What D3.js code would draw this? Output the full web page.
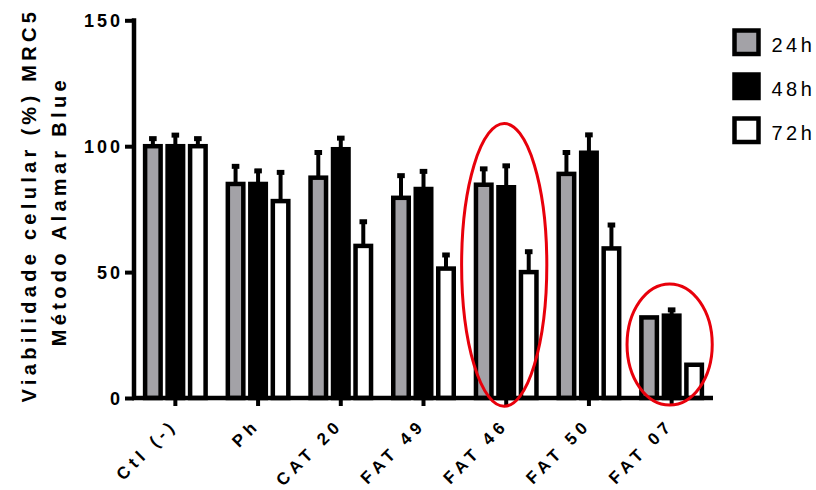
<!DOCTYPE html>
<html><head><meta charset="utf-8">
<script src="https://cdn.jsdelivr.net/npm/d3@7"></script>
<style>
html,body{margin:0;padding:0;background:#fff;}
svg{display:block;font-family:Arial,"Liberation Sans",sans-serif;}
</style></head>
<body>
<svg id="chart" width="816" height="490"></svg>
<script>
const categories = ["Ctl (-)", "Ph", "CAT 20", "FAT 49", "FAT 46", "FAT 50", "FAT 07"];
const seriesNames = ["24h", "48h", "72h"];
const mean24 = [100, 85, 87.5, 79.5, 84.7, 89, 32];
const sd24   = [3, 7, 10, 8.8, 6.3, 8.5, 0];
const mean48 = [100, 85, 98.8, 83, 83.7, 97.4, 32.7];
const sd48   = [4.4, 5.2, 4.4, 7, 8.5, 7.1, 2.3];
const mean72 = [100, 78.2, 60.4, 51.4, 50, 59.4, 13.2];
const sd72   = [3, 11.4, 9.6, 5.4, 8.1, 9.3, 0];
const yTicks = [0, 50, 100, 150];
const fills = ["#a3a2a7", "#000000", "#ffffff"];
// highlighted groups: [category, yLow, yHigh]
const highlights = [["FAT 46", -3.3, 109], ["FAT 07", -2.8, 45.3]];

const means = [mean24, mean48, mean72];
const sds = [sd24, sd48, sd72];

const svg = d3.select("#chart");
const x = d3.scaleBand().domain(categories).range([134, 713]).padding(0);
const y = d3.scaleLinear().domain([0, 150]).range([398, 20.3]);
const xs = d3.scaleBand().domain(seriesNames).range([-33.75, 33.75]).padding(0);
const SW = 4.5, barW = 20 - SW;

// bars
const g = svg.append("g");
seriesNames.forEach((s, si) => {
  categories.forEach((c, ci) => {
    const cx = x(c) + x.bandwidth() / 2 + xs(s) + xs.bandwidth() / 2;
    const v = means[si][ci], e = sds[si][ci];
    if (e > 0) {
      g.append("line").attr("x1", cx).attr("x2", cx)
        .attr("y1", y(v)).attr("y2", y(v + e))
        .attr("stroke", "#000").attr("stroke-width", 4);
      g.append("line").attr("x1", cx - 3.8).attr("x2", cx + 3.8)
        .attr("y1", y(v + e)).attr("y2", y(v + e))
        .attr("stroke", "#000").attr("stroke-width", 5);
    }
    g.append("rect")
      .attr("x", cx - barW / 2).attr("width", barW)
      .attr("y", y(v)).attr("height", y(0) - y(v))
      .attr("fill", fills[si]).attr("stroke", "#000").attr("stroke-width", SW);
  });
});

// y axis
const ya = svg.append("g").attr("transform", "translate(134,0)")
  .call(d3.axisLeft(y).tickValues(yTicks).tickSize(9).tickSizeOuter(0).tickFormat(d3.format("d")));
ya.select(".domain").remove();
ya.append("line").attr("x1", 0).attr("x2", 0).attr("y1", y(150) - 2).attr("y2", y(0) + 2)
  .attr("stroke", "#000").attr("stroke-width", 4.5);
ya.selectAll(".tick line").attr("stroke-width", 4);
ya.selectAll(".tick text").attr("x", -11).attr("dy", "0.36em")
  .attr("font-size", 18).attr("font-weight", "bold").attr("fill", "#000")
  .style("letter-spacing", "3px").attr("font-family", "Arial, 'Liberation Sans', sans-serif");

// x axis
const xa = svg.append("g").attr("transform", `translate(0,${y(0)})`)
  .call(d3.axisBottom(x).tickSize(8).tickSizeOuter(0));
xa.select(".domain").remove();
xa.append("line").attr("x1", 132).attr("x2", 713).attr("y1", 0).attr("y2", 0)
  .attr("stroke", "#000").attr("stroke-width", 4.5);
xa.selectAll(".tick line").attr("stroke-width", 4);
xa.selectAll(".tick text")
  .attr("font-size", 17).attr("font-weight", "bold").attr("fill", "#000")
  .attr("font-family", "Arial, 'Liberation Sans', sans-serif")
  .style("letter-spacing", "4.8px")
  .attr("text-anchor", "end").attr("y", 0).attr("dy", 0)
  .attr("transform", "translate(3,28) rotate(-45)");

// y title
const titleG = svg.append("g").attr("font-weight", "bold").attr("font-size", 20)
  .style("letter-spacing", "4.3px").attr("text-anchor", "middle");
titleG.append("text").attr("transform", `translate(35.5,${(y(0) + y(150)) / 2 - 4}) rotate(-90)`)
  .text("Viabilidade celular (%) MRC5");
titleG.append("text").attr("transform", `translate(65.5,${(y(0) + y(150)) / 2 + 2}) rotate(-90)`)
  .text("Método Alamar Blue");

// legend
const lg = svg.append("g").attr("transform", "translate(734.5,30.5)");
seriesNames.forEach((s, i) => {
  lg.append("rect").attr("x", 0).attr("y", i * 44).attr("width", 24).attr("height", 23.5)
    .attr("fill", fills[i]).attr("stroke", "#000").attr("stroke-width", SW);
  lg.append("text").attr("x", 37).attr("y", i * 44 + 21.5).attr("font-size", 20)
    .style("letter-spacing", "3.5px").attr("fill", "#000").text(s);
});

// red highlight ellipses
highlights.forEach(([c, lo, hi]) => {
  svg.append("ellipse")
    .attr("cx", x(c) + x.bandwidth() / 2 - 2)
    .attr("cy", (y(lo) + y(hi)) / 2)
    .attr("rx", x.bandwidth() * 0.515)
    .attr("ry", (y(lo) - y(hi)) / 2)
    .attr("fill", "none").attr("stroke", "#e8000b").attr("stroke-width", 3);
});
</script>
</body></html>
